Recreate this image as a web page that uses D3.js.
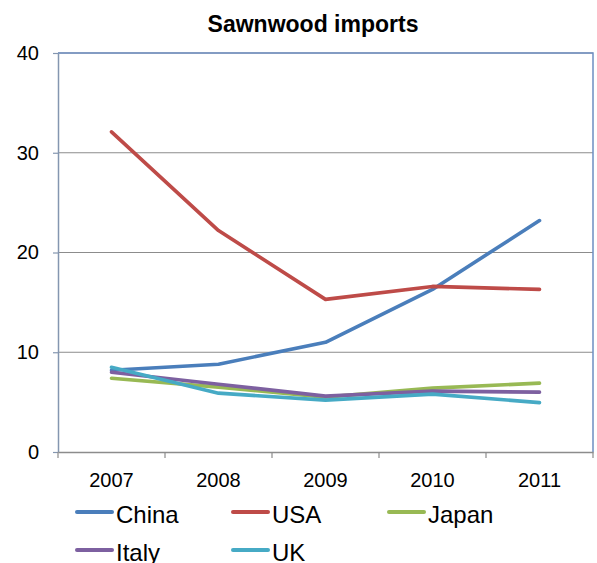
<!DOCTYPE html>
<html>
<head>
<meta charset="utf-8">
<script src="https://cdn.jsdelivr.net/npm/d3@7"></script>
<style>
  html, body { margin: 0; padding: 0; background: #fff; }
  svg { display: block; font-family: "Liberation Sans", Arial, sans-serif; }
</style>
</head>
<body>
<svg id="chart" width="597" height="563"></svg>
<script>
const title = "Sawnwood imports";
const years = ["2007", "2008", "2009", "2010", "2011"];
const yTicks = [0, 10, 20, 30, 40];
const seriesNames = ["China", "USA", "Japan", "Italy", "UK"];
const seriesColors = ["#4a7ebb", "#be4b48", "#98b954", "#7d60a0", "#46aac5"];
const china = [8.2, 8.8, 11.0, 16.3, 23.2];
const usa   = [32.1, 22.2, 15.3, 16.6, 16.3];
const japan = [7.4, 6.5, 5.5, 6.4, 6.9];
const italy = [8.0, 6.8, 5.6, 6.1, 6.0];
const uk    = [8.5, 5.9, 5.2, 5.8, 4.95];
const seriesValues = [china, usa, japan, italy, uk];

const svg = d3.select("#chart");
const pLeft = 58, pRight = 593, pTop = 53, pBottom = 452;

const x = d3.scaleBand().domain(years).range([pLeft, pRight]).padding(0);
const y = d3.scaleLinear().domain([0, 40]).range([pBottom, pTop]);

// gridlines
svg.append("g").selectAll("line").data(yTicks.filter(t => t > 0)).join("line")
  .attr("x1", pLeft).attr("x2", pRight)
  .attr("y1", d => y(d)).attr("y2", d => y(d))
  .attr("stroke", "#8c8c8c").attr("stroke-width", 1);

// plot border (top/right)
svg.append("path")
  .attr("d", `M${pLeft},${y(40)}H${pRight}V${pBottom}`)
  .attr("fill", "none").attr("stroke", "#6d8fc2").attr("stroke-width", 1.5);

// y axis
const yAxis = svg.append("g").attr("transform", `translate(${pLeft},0)`)
  .call(d3.axisLeft(y).tickValues(yTicks).tickSize(5).tickSizeOuter(0).tickPadding(14));
yAxis.select(".domain").attr("stroke", "#8496b0").attr("stroke-width", 1.5);
yAxis.selectAll(".tick line").attr("stroke", "#8496b0").attr("stroke-width", 1.2);
yAxis.selectAll(".tick text").attr("font-size", "20px").attr("fill", "#000")
  .attr("font-family", "Liberation Sans, Arial, sans-serif");

// x axis
const xAxis = svg.append("g").attr("transform", `translate(0,${pBottom})`)
  .call(d3.axisBottom(x).tickSize(0).tickPadding(20.5));
xAxis.select(".domain").attr("stroke", "#8c8c8c").attr("stroke-width", 1.5);
xAxis.selectAll(".tick text").attr("font-size", "20px").attr("fill", "#000")
  .attr("font-family", "Liberation Sans, Arial, sans-serif");
const bounds = years.map(d => x(d)).concat([x.range()[1]]);
xAxis.append("g").selectAll("line").data(bounds).join("line")
  .attr("x1", d => d).attr("x2", d => d).attr("y1", 0).attr("y2", 6)
  .attr("stroke", "#8c8c8c").attr("stroke-width", 1.2);

// lines
const line = d3.line()
  .x((d, i) => x(years[i]) + x.bandwidth() / 2)
  .y(d => y(d));
svg.append("g").selectAll("path").data(seriesValues).join("path")
  .attr("d", d => line(d))
  .attr("fill", "none")
  .attr("stroke", (d, i) => seriesColors[i])
  .attr("stroke-width", 3.6)
  .attr("stroke-linecap", "round")
  .attr("stroke-linejoin", "round");

// title
svg.append("text")
  .attr("x", 313).attr("y", 31.5)
  .attr("text-anchor", "middle")
  .attr("font-size", "23px").attr("font-weight", "bold")
  .text(title);

// legend
const legCols = [77, 233, 389];
const legRows = [512, 550];
const leg = svg.append("g").selectAll("g").data(seriesNames).join("g")
  .attr("transform", (d, i) => `translate(${legCols[i % 3]},${legRows[Math.floor(i / 3)]})`);
leg.append("line")
  .attr("x1", 0).attr("x2", 35).attr("y1", 0).attr("y2", 0)
  .attr("stroke", (d, i) => seriesColors[i]).attr("stroke-width", 4)
  .attr("stroke-linecap", "round");
leg.append("text")
  .attr("x", 39).attr("y", 10.5)
  .attr("font-size", "24px")
  .text(d => d);
</script>
</body>
</html>
